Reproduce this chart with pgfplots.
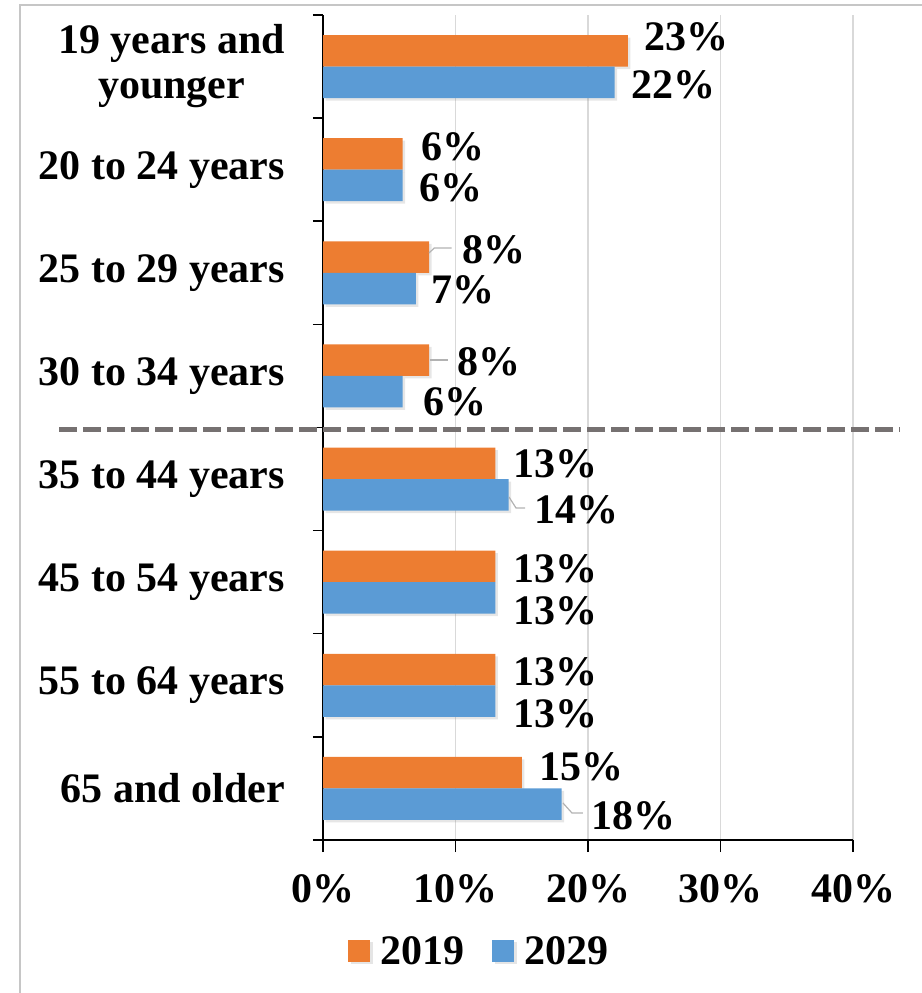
\documentclass[border=0pt]{standalone}
\usepackage{fontspec}
\setmainfont{Liberation Serif}
\usepackage{pgfplots}
\pgfplotsset{compat=1.18}
\usepackage{pgfplotstable}
\usetikzlibrary{shadows}

\definecolor{c19}{HTML}{ED7D31}
\definecolor{c29}{HTML}{5B9BD5}
\definecolor{gridc}{HTML}{D9D9D9}
\definecolor{dashc}{HTML}{767171}
\newcommand\lbl{\fontsize{42bp}{46bp}\selectfont\bfseries}

% y: 7 = top row; dx/dy: label offsets from bar end (bp)
\pgfplotstableread{
y v19 dx19 dy19 v29 dx29 dy29
7 23 17 14   22 17 -2.5
6 6  19 7    6  17 -2.5
5 8  33 7    7  16 -1
4 8  28 -1.5 6  20.5 -10
3 13 18 -0.5 14 26 -15
2 13 18 -2   13 18 -12.5
1 13 18 -2.5 13 18 -12.5
0 15 18 6    18 30 -11.5
}\agedata

\begin{document}
\begin{tikzpicture}
\useasboundingbox (0,0) rectangle (922bp,993bp);
\draw[gray!45, line width=1.5bp] (20bp,0) -- (20bp,988bp) -- (922bp,988bp);
\begin{axis}[
    at={(323bp,153bp)}, anchor=south west,
    scale only axis,
    width=530bp, height=825bp,
    xmin=0, xmax=40,
    ymin=-0.5, ymax=7.5,
    xbar, bar width=31.5bp,
    axis lines=left,
    axis line style={-, black, line width=1.5bp},
    clip=false,
    xtick={0,10,20,30,40},
    xticklabels={0\%,10\%,20\%,30\%,40\%},
    ytick={0,...,7},
    yticklabels={65 and older,55 to 64 years,45 to 54 years,35 to 44 years,
        30 to 34 years,25 to 29 years,20 to 24 years,
        {\begin{tabular}{@{}c@{}}19 years and\\[-1bp]younger\end{tabular}}},
    minor ytick={-0.5,0.5,...,7.5},
    tick align=outside,
    major tick length=12bp,
    minor tick length=10bp,
    every major y tick/.append style={draw=none},
    every minor y tick/.append style={black, line width=1.5bp},
    every major x tick/.append style={black, line width=1.5bp},
    xmajorgrids,
    major grid style={gridc, line width=1.5bp},
    xticklabel style={font=\lbl, inner sep=0pt, yshift=-22bp},
    yticklabel style={font=\lbl, inner sep=0pt, xshift=-26bp},
    point meta=x,
    nodes near coords={\pgfmathprintnumber[assume math mode=true]{\pgfplotspointmeta}\%},
    nodes near coords style={font=\lbl, anchor=west, inner sep=0pt,
        xshift=\dx bp, yshift=\dy bp},
    legend style={at={(0.0472,-0.1164)}, anchor=north west, draw=none,
        inner sep=0pt, font=\lbl, nodes={inner xsep=5bp, inner ysep=0pt},
        /tikz/every even column/.append style={column sep=23bp}},
    legend columns=2,
]
\addplot[fill=c19, draw=none, bar shift=15.75bp,
    drop shadow={shadow xshift=2.5bp, shadow yshift=-2.5bp, opacity=0.2},
    visualization depends on={\thisrow{dx19} \as \dx},
    visualization depends on={\thisrow{dy19} \as \dy},
    legend image code/.code={\fill[c19] (0bp,-11bp) rectangle (22bp,11bp); \path (27bp,0);}]
    table[x=v19, y=y] {\agedata};
\addplot[fill=c29, draw=none, bar shift=-15.75bp,
    drop shadow={shadow xshift=2.5bp, shadow yshift=-2.5bp, opacity=0.2},
    visualization depends on={\thisrow{dx29} \as \dx},
    visualization depends on={\thisrow{dy29} \as \dy},
    legend image code/.code={\fill[c29] (0bp,-11bp) rectangle (22bp,11bp); \path (27bp,0);}]
    table[x=v29, y=y] {\agedata};
\legend{2019,2029}
% leader lines
\draw[gray!60, line width=1.2bp] (axis cs:8,5.192) -- (axis cs:8.4,5.241) -- (axis cs:9.7,5.241);
\draw[gray!60, line width=1.2bp] (axis cs:8.05,4.155) -- (axis cs:9.43,4.155);
\draw[gray!60, line width=1.2bp] (axis cs:14.04,2.826) -- (axis cs:14.57,2.719) -- (axis cs:15.25,2.719);
\draw[gray!60, line width=1.2bp] (axis cs:18.11,-0.141) -- (axis cs:18.79,-0.238) -- (axis cs:19.62,-0.238);
% separator
\draw[dashc, line width=5bp, dash pattern=on 18bp off 6bp] (axis cs:-19.9,3.48) -- (axis cs:43.5,3.48);
\end{axis}
\end{tikzpicture}
\end{document}
